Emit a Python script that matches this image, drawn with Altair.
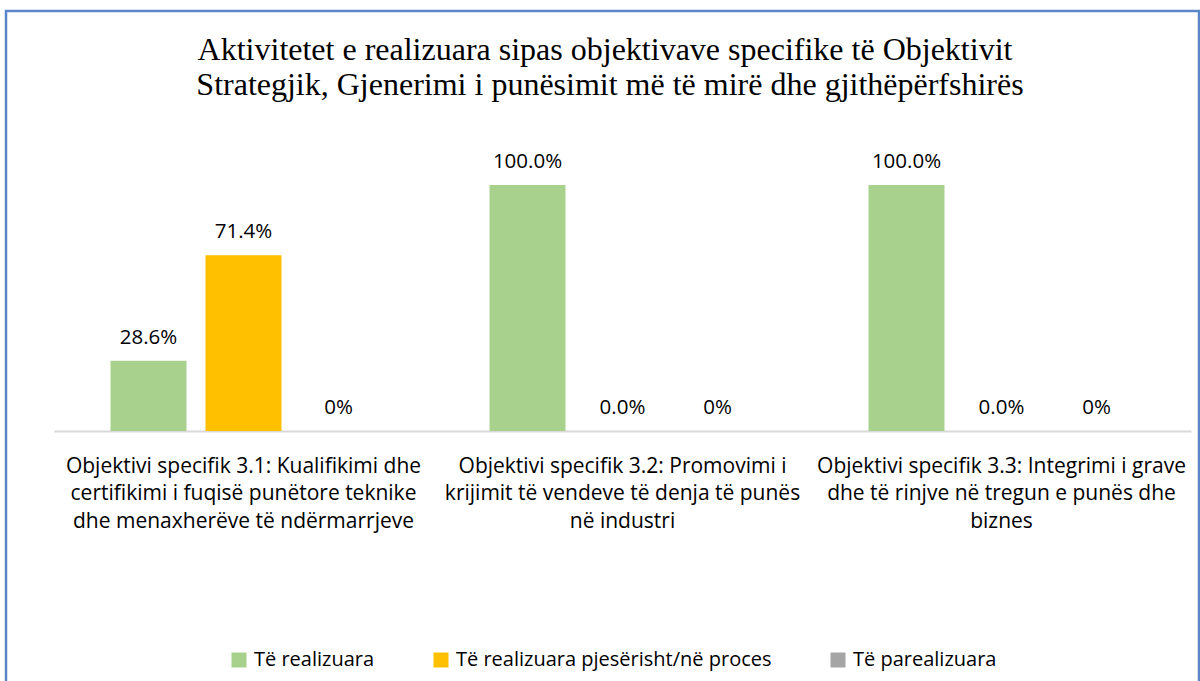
import altair as alt
import pandas as pd

categories = [
    "Objektivi specifik 3.1: Kualifikimi dhe|certifikimi i fuqisë punëtore teknike|dhe menaxherëve të ndërmarrjeve",
    "Objektivi specifik 3.2: Promovimi i|krijimit të vendeve të denja të punës|në industri",
    "Objektivi specifik 3.3: Integrimi i grave|dhe të rinjve në tregun e punës dhe|biznes",
]
series = ["Të realizuara", "Të realizuara pjesërisht/në proces", "Të parealizuara"]
realizuara = [28.6, 100.0, 100.0]
pjeserisht = [71.4, 0.0, 0.0]
parealizuara = [0.0, 0.0, 0.0]
label_realizuara = ["28.6%", "100.0%", "100.0%"]
label_pjeserisht = ["71.4%", "0.0%", "0.0%"]
label_parealizuara = ["0%", "0%", "0%"]
colors = ["#A9D18E", "#FFC000", "#A5A5A5"]
title_lines = [
    "Aktivitetet e realizuara sipas objektivave specifike të Objektivit",
    "Strategjik, Gjenerimi i punësimit më të mirë dhe gjithëpërfshirës",
]

rows = []
for vals, labs, s in zip([realizuara, pjeserisht, parealizuara],
                         [label_realizuara, label_pjeserisht, label_parealizuara], series):
    for c, v, l in zip(categories, vals, labs):
        rows.append({"category": c, "series": s, "value": v, "label": l})
df = pd.DataFrame(rows)

FONT = "Open Sans"

base = alt.Chart(df).encode(
    x=alt.X("category:N", sort=categories,
            scale=alt.Scale(paddingInner=0, paddingOuter=0),
            axis=alt.Axis(title=None, labelExpr="split(datum.label, '|')",
                          labelFont=FONT, labelFontSize=21, labelColor="#000000",
                          labelLineHeight=27.5, labelAngle=0, labelLimit=420,
                          labelPadding=24, domainColor="#D9D9D9", domainWidth=2,
                          ticks=False, grid=False)),
    xOffset=alt.XOffset("series:N", sort=series,
                        scale=alt.Scale(paddingInner=0.2, paddingOuter=0.595)),
)

yenc = alt.Y("value:Q", scale=alt.Scale(domain=[0, 100]), axis=None)

bars = base.mark_bar().encode(
    y=yenc,
    color=alt.Color("series:N", sort=series,
                    scale=alt.Scale(domain=series, range=colors),
                    legend=alt.Legend(title=None, orient="none", direction="horizontal",
                                      legendX=175, legendY=465, symbolType="square",
                                      symbolSize=225, symbolStrokeWidth=0,
                                      labelFont=FONT, labelFontSize=20,
                                      labelColor="#000000", columnPadding=56,
                                      labelOffset=5, padding=0, labelLimit=500)),
)

text = base.mark_text(baseline="middle", dy=-23, font=FONT, fontSize=20.5,
                      color="#000000").encode(
    y=yenc,
    text="label:N",
)

title1 = alt.Chart(alt.Data(values=[{"a": 1}])).mark_text(
    font="Liberation Serif", fontSize=32, color="#000000", align="center",
    baseline="alphabetic"
).encode(x=alt.value(551), y=alt.value(-125), text=alt.value(title_lines[0]))

title2 = alt.Chart(alt.Data(values=[{"a": 1}])).mark_text(
    font="Liberation Serif", fontSize=32, color="#000000", align="center",
    baseline="alphabetic"
).encode(x=alt.value(556), y=alt.value(-90), text=alt.value(title_lines[1]))

frame = alt.Chart(alt.Data(values=[{"a": 1}])).mark_rect(
    fillOpacity=0, stroke="#5B87C8", strokeWidth=2.5
).encode(x=alt.value(-48), x2=alt.value(1145), y=alt.value(-174), y2=alt.value(530))

chart = alt.layer(frame, title1, title2, bars, text).properties(
    width=1137, height=246,
    padding={"left": 54, "top": 185, "right": 9, "bottom": 250},
    autosize=alt.AutoSizeParams(type="none"),
).configure(background="white").configure_view(strokeWidth=0, stroke=None)

chart.save("out.html", embed_options={"renderer": "svg", "actions": False})
